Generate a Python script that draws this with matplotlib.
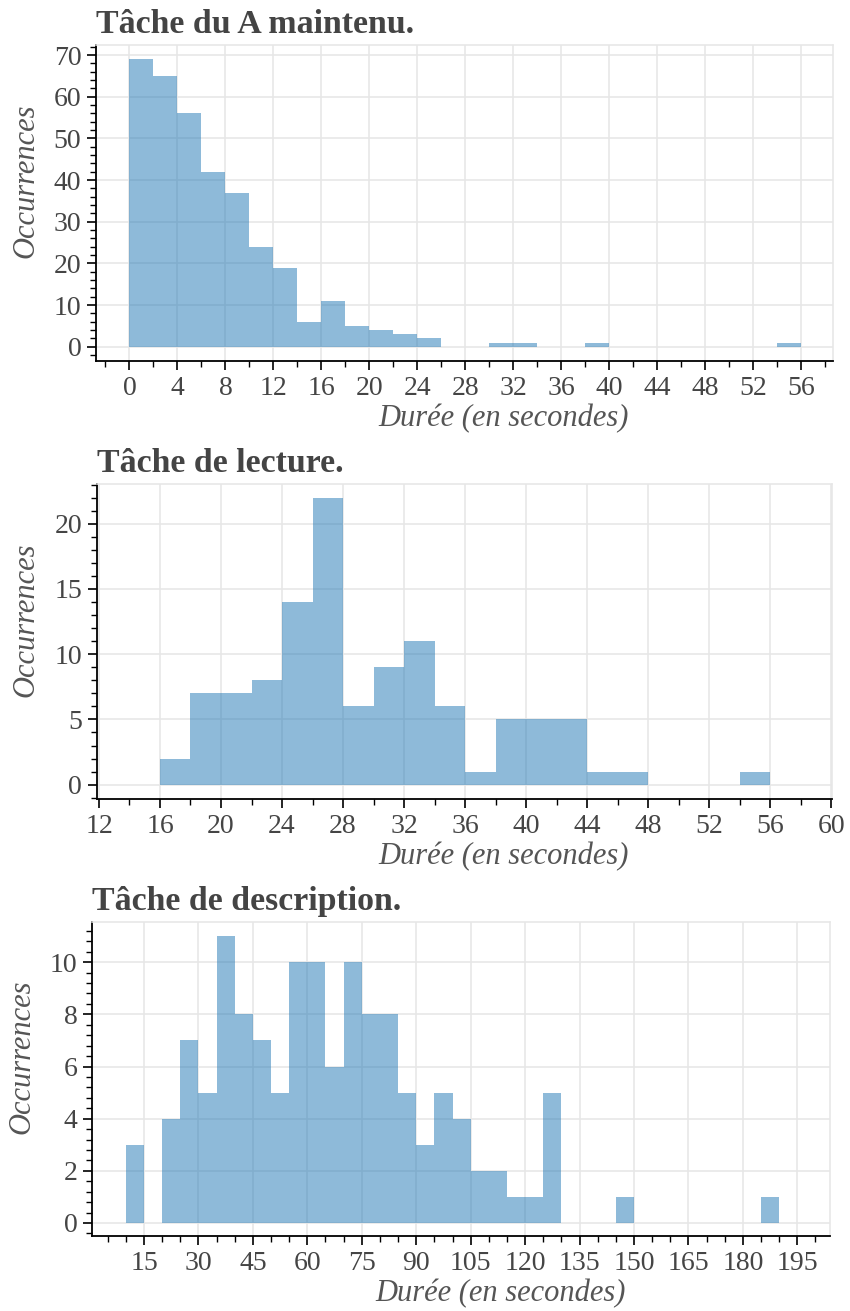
import numpy as np
import matplotlib
matplotlib.use("Agg")
import matplotlib.pyplot as plt
from matplotlib.ticker import MultipleLocator

# effectifs par classe de durée (bornes gauches régulières)
maintien_start = 0
maintien_width = 2
maintien_counts = [69, 65, 56, 42, 37, 24, 19, 6, 11, 5, 4, 3, 2, 0,
                   0, 1, 1, 0, 0, 1, 0, 0, 0, 0, 0, 0, 0, 1]

lecture_start = 16
lecture_width = 2
lecture_counts = [2, 7, 7, 8, 14, 22, 6, 9, 11, 6, 1, 5, 5, 5, 1, 1, 0, 0, 0, 1]

description_start = 10
description_width = 5
description_counts = [3, 0, 4, 7, 5, 11, 8, 7, 5, 10, 10, 6, 10, 8, 8, 5, 3, 5,
                      4, 2, 2, 1, 1, 5, 0, 0, 0, 1, 0, 0, 0, 0, 0, 0, 0, 1]

titles = ["Tâche du A maintenu.", "Tâche de lecture.", "Tâche de description."]
x_label = "Durée (en secondes)"
y_label = "Occurrences"

W, H = 850, 1311
FONT = ["Liberation Serif", "DejaVu Serif"]
BAR = "#1f77b4"
GRID = "#e6e6e6"
TXT = "#454545"

plt.rcParams["font.family"] = FONT

fig = plt.figure(figsize=(W / 100, H / 100), dpi=100)


def fx(x):
    return x / W


def fy(y):
    return 1 - y / H


def panel(box, start, width, counts, xlim, ylim, xmaj, xmin, ymaj, title):
    l, t, r, b = box
    ax = fig.add_axes([fx(l), fy(b), (r - l) / W, (b - t) / H])
    edges = start + width * np.arange(len(counts))
    ax.bar(edges, counts, width=width, align="edge", color=BAR, alpha=0.5,
           linewidth=0, zorder=2)
    ax.set_xlim(*xlim)
    ax.set_ylim(*ylim)
    ax.xaxis.set_major_locator(MultipleLocator(xmaj))
    ax.xaxis.set_minor_locator(MultipleLocator(xmin))
    ax.yaxis.set_major_locator(MultipleLocator(ymaj))
    ax.yaxis.set_minor_locator(MultipleLocator(ymaj / 5))
    ax.set_axisbelow(True)
    ax.grid(True, which="major", color=GRID, lw=1.1)
    for s in ("top", "right"):
        ax.spines[s].set_color(GRID)
        ax.spines[s].set_linewidth(1.1)
    for s in ("left", "bottom"):
        ax.spines[s].set_color("black")
        ax.spines[s].set_linewidth(1.3)
    ax.tick_params(which="major", direction="out", length=6.5, width=1.2,
                   labelsize=20, labelcolor=TXT, pad=4)
    ax.tick_params(which="minor", direction="out", length=4.3, width=1.0)

    # titres
    fig.text(fx(l), fy(t - 12), title, fontsize=24.4, fontweight="bold",
             color="#444444", ha="left", va="baseline")
    fig.text(fx((l + r) / 2 + 39), fy(b + 58), x_label, fontsize=22,
             style="italic", color="#555555", ha="center", va="center")
    fig.text(fx(l - 70.5), fy((t + b) / 2 - 22), y_label, fontsize=22,
             style="italic", color="#555555", ha="center", va="center",
             rotation=90)
    return ax


panel((96, 45, 833, 361), maintien_start, maintien_width, maintien_counts,
      (-2.79, 58.67), (-3.4, 72.4), 4, 2, 10, titles[0])
panel((96.7, 484.3, 832.3, 799), lecture_start, lecture_width, lecture_counts,
      (11.85, 60.08), (-1.1, 23.02), 4, 2, 5, titles[1])
panel((92.3, 922.3, 830, 1236), description_start, description_width,
      description_counts, (0.75, 204), (-0.5, 11.53), 15, 5, 2, titles[2])

fig.savefig("out.png", dpi=100)
